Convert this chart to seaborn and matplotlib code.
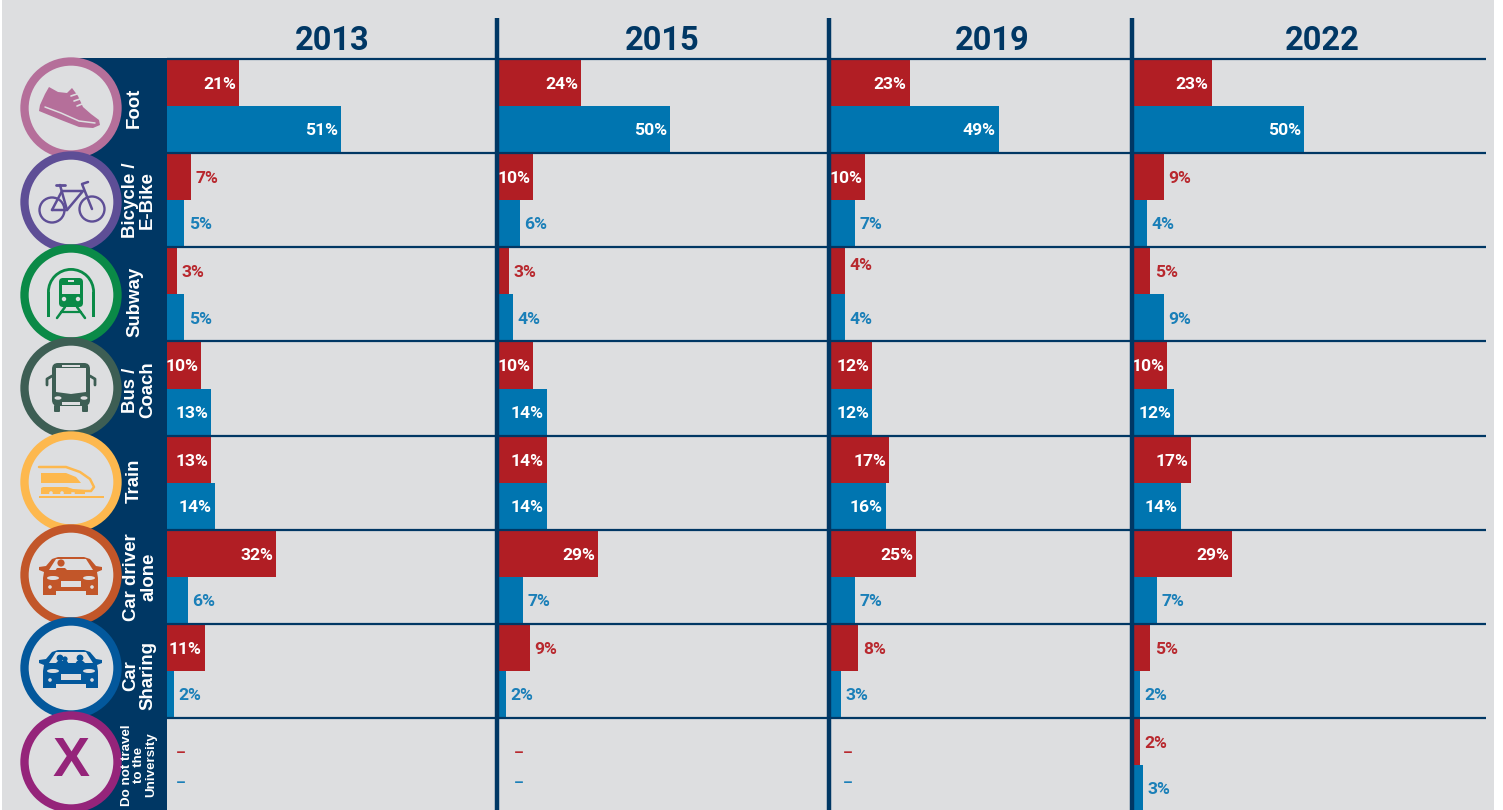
import numpy as np
import pandas as pd
import matplotlib
matplotlib.use("Agg")
import matplotlib.pyplot as plt
from matplotlib.patches import Circle, Polygon, Rectangle, FancyBboxPatch, Wedge, Ellipse
import seaborn as sns

# ---------- data ----------
years = ["2013", "2015", "2019", "2022"]
modes = ["Foot", "Bicycle /\nE-Bike", "Subway", "Bus /\nCoach", "Train",
         "Car driver\nalone", "Car\nSharing", "Do not travel\nto the\nUniversity"]
series = ["A", "B"]
red_2013 = [21, 7, 3, 10, 13, 32, 11, np.nan]
blue_2013 = [51, 5, 5, 13, 14, 6, 2, np.nan]
red_2015 = [24, 10, 3, 10, 14, 29, 9, np.nan]
blue_2015 = [50, 6, 4, 14, 14, 7, 2, np.nan]
red_2019 = [23, 10, 4, 12, 17, 25, 8, np.nan]
blue_2019 = [49, 7, 4, 12, 16, 7, 3, np.nan]
red_2022 = [23, 9, 5, 10, 17, 29, 5, 2]
blue_2022 = [50, 4, 9, 12, 14, 7, 2, 3]
values = {"2013": (red_2013, blue_2013), "2015": (red_2015, blue_2015),
          "2019": (red_2019, blue_2019), "2022": (red_2022, blue_2022)}

# ---------- style ----------
W, H = 1503, 810
BG, NAVY, RED, BLUE = "#DDDEE0", "#003764", "#B11E24", "#0075B0"
RED_T, BLUE_T = "#B8282E", "#1A7FB8"
NARROW = ["Roboto", "DejaVu Sans"]
SANS = ["Liberation Sans", "DejaVu Sans"]
sns.set_theme(style="white")
plt.rcParams["font.family"] = SANS
fig = plt.figure(figsize=(W / 100, H / 100), dpi=100, facecolor="white")

def rect(l, t, r, b):
    return [l / W, 1 - b / H, (r - l) / W, (b - t) / H]

back = fig.add_axes([0, 0, 1, 1], zorder=0)
back.set_xlim(0, W); back.set_ylim(H, 0); back.axis("off")
back.add_patch(Rectangle((2, 0), 1492, H, fc=BG, ec="none"))
back.add_patch(Rectangle((75, 58), 92, H - 58, fc=NAVY, ec="none"))

origins = [167, 499, 831, 1133]
rights = [495, 827, 1130, 1486]
title_x = [332.5, 662, 992, 1322]
dash_dx = {"2013": 9, "2015": 15, "2019": 12, "2022": 0}
nudge = {("2019", 2, 0): 7}
PX = 3.42
TOP, ROW = 59.2, 94.1
for yr, x0, x1, tx in zip(years, origins, rights, title_x):
    df = pd.DataFrame({"mode": modes * 2,
                       "value": list(values[yr][0]) + list(values[yr][1]),
                       "series": ["A"] * 8 + ["B"] * 8})
    ax = fig.add_axes(rect(x0, TOP, x1, TOP + 8 * ROW), zorder=2)
    sns.barplot(data=df, y="mode", x="value", hue="series", hue_order=series,
                order=modes, orient="h", palette=[RED, BLUE], width=0.98,
                dodge=True, legend=False, saturation=1, ax=ax, errorbar=None, linewidth=0)
    ax.set_xlim(0, (x1 - x0) / PX)
    ax.set_ylim(7.5, -0.5)
    ax.patch.set_alpha(0)
    ax.axis("off")
    for s, (col, sval) in enumerate(zip((RED_T, BLUE_T), values[yr])):
        for i, v in enumerate(sval):
            yc = i + (s - 0.5) * 0.49
            dy = -1.5 + nudge.get((yr, i, s), 0)
            if np.isnan(v):
                ax.annotate("–", (0, i), xytext=(dash_dx[yr], 12 if s == 0 else -18),
                            textcoords="offset pixels", color=col, fontsize=11,
                            family=NARROW, fontweight="bold", va="center", ha="left")
            elif v >= 10:
                ax.annotate(f"{v:.0f}%", (v, yc), xytext=(-3, dy),
                            textcoords="offset pixels", color="white", fontsize=12.6,
                            family=NARROW, fontweight="bold", va="center", ha="right")
            else:
                ax.annotate(f"{v:.0f}%", (v, yc), xytext=(4.5, dy),
                            textcoords="offset pixels", color=col, fontsize=12.6,
                            family=NARROW, fontweight="bold", va="center", ha="left")
    back.text(tx, 40.5, yr, color=NAVY, fontsize=23.5, family=NARROW, fontweight="bold",
              ha="center", va="center")

top = fig.add_axes([0, 0, 1, 1], zorder=3)
top.set_xlim(0, W); top.set_ylim(H, 0); top.axis("off"); top.patch.set_alpha(0)
for k in range(8):
    top.plot([167, 1486], [TOP + k * ROW] * 2, color=NAVY, lw=1.6, solid_capstyle="butt")
for xd in [497, 828.5, 1131.5]:
    top.plot([xd, xd], [18, H], color=NAVY, lw=3.2, solid_capstyle="butt")

# category labels
label_x = [134, 139, 135, 139, 134, 140, 139, 139.5]
label_y = [108, 200, 302, 390, 481, 577, 676, 765]
label_fs = [13.4, 13.4, 13.4, 13.4, 13.4, 13.4, 13.4, 9.6]
for m, lx, ly, fs in zip(modes, label_x, label_y, label_fs):
    top.text(lx, ly, m, rotation=90, color="white", fontsize=fs,
             fontweight="bold", ha="center", va="center", linespacing=1.0,
             multialignment="center")

# icons
centers = [108, 202, 295, 388, 482, 575, 668, 762]
ring = ["#B56F9A", "#5E4E96", "#0A8A47", "#3D5E54", "#FDB84E", "#C25629", "#03589C", "#95247A"]
for cy, c in zip(centers, ring):
    top.add_patch(Circle((71, cy), 46.5, fc=BG, ec=c, lw=6))

def P(pts, c, cy, **kw):
    top.add_patch(Polygon([(71 + x, cy + y) for x, y in pts], closed=True, fc=c, ec="none", **kw))
def L(pts, c, cy, lw=1.8):
    xs, ys = zip(*pts)
    top.plot([71 + x for x in xs], [cy + y for y in ys], color=c, lw=lw, solid_capstyle="round")
def C(x, y, r, cy, fc="none", ec="none", lw=1.8):
    top.add_patch(Circle((71 + x, cy + y), r, fc=fc, ec=ec, lw=lw))
def R(x, y, w, h, c, cy, pad=1.5):
    top.add_patch(FancyBboxPatch((71 + x, cy + y), w, h,
                                 boxstyle=f"round,pad=0,rounding_size={pad}", fc=c, ec="none"))

# shoe
c, cy = ring[0], centers[0]
P([(-31, -3), (-26, -14), (-22, -21), (-13, -16), (-4, -15), (1, -20), (7, -12), (12, -1), (20, 6), (28, 12),
   (29, 17), (22, 20), (8, 19), (-10, 12), (-32, 3)], c, cy)
L([(-26, -1), (-10, 5), (8, 13), (24, 15)], BG, cy, 1.1)
for a, b in [((0, -12), (6, -14)), ((3, -7), (9, -9)), ((6, -2), (11, -4))]:
    L([a, b], BG, cy, 1.2)

# bike
c, cy = ring[1], centers[1]
C(-19, 8, 12.5, cy, ec=c, lw=1.7); C(21, 7, 12.5, cy, ec=c, lw=1.7)
L([(-19, 8), (-9, -11), (12, -11), (-4, 8), (-19, 8)], c, cy)
L([(-11, -17), (-4, 8)], c, cy)
L([(-15, -17), (-6, -17)], c, cy, 2)
L([(21, 7), (11, -18), (17, -20)], c, cy)

# subway
c, cy = ring[2], centers[2]
top.add_patch(Wedge((71, cy - 3), 24, 180, 360, width=2.8, fc=c, ec="none"))
for xx in (-24, 21.2):
    top.add_patch(Rectangle((71 + xx, cy - 3), 2.8, 25, fc=c, ec="none"))
R(-12, -17, 24, 29, c, cy, 4)
top.add_patch(Rectangle((71 - 9, cy - 10), 18, 9, fc=BG, ec="none"))
top.add_patch(Rectangle((71 - 3, cy - 15), 6, 2, fc=BG, ec="none"))
C(-7, 4, 2.2, cy, fc=BG); C(7, 4, 2.2, cy, fc=BG)
L([(-6, 12), (-14, 23)], c, cy, 1.8); L([(6, 12), (14, 23)], c, cy, 1.8); L([(-10, 17), (10, 17)], c, cy, 1.6)

# bus
c, cy = ring[3], centers[3]
R(-19, -25, 38, 43, c, cy, 6)
L([(-19, -12), (-24, -9), (-24, -3)], c, cy, 2); L([(19, -12), (24, -9), (24, -3)], c, cy, 2)
P([(-15, -20), (15, -20), (15, 4), (0, 6), (-15, 4)], BG, cy)
top.add_patch(Rectangle((71 - 9, cy - 23.5), 18, 2.5, fc=BG, ec="none"))
top.add_patch(Ellipse((71 - 13, cy + 10), 7, 3.5, fc=BG, ec="none"))
top.add_patch(Ellipse((71 + 13, cy + 10), 7, 3.5, fc=BG, ec="none"))
top.add_patch(Rectangle((71 - 9, cy + 14), 18, 2.5, fc=BG, ec="none"))
R(-17, 17, 6, 7, c, cy, 1); R(11, 17, 6, 7, c, cy, 1)

# train
c, cy = ring[4], centers[4]
L([(-32, -15), (-5, -15), (9, -10), (19, -3), (23, 5), (20, 9), (-4, 9)], c, cy, 1.8)
P([(-30, -9), (-5, -9), (5, -5), (10, 1), (-30, 1)], c, cy)
P([(-30, 6), (-28, 5), (-4, 5), (2, 7), (14, 8), (14, 12), (-30, 12)], c, cy)
for xx in (-20, -9, 2):
    C(xx, 11, 1.8, cy, fc=BG)
top.add_patch(Rectangle((71 - 32, cy + 14), 65, 2.2, fc=c, ec="none"))

# cars
def car(cy, c, two):
    P([(-32, -8), (-25, -9), (-19, -16), (-13, -18), (13, -18), (19, -16), (25, -9), (31, -8), (31, -5), (26, -3),
       (27, 3), (27, 20), (15, 20), (15, 16), (-15, 16), (-15, 20), (-28, 20), (-28, 3), (-27, -3), (-32, -5)], c, cy)
    P([(-22, -5), (-15, -16), (15, -16), (22, -5)], BG, cy)
    top.add_patch(Ellipse((71 - 18, cy + 3), 12, 4, fc=BG, ec="none"))
    top.add_patch(Ellipse((71 + 18, cy + 3), 12, 4, fc=BG, ec="none"))
    top.add_patch(Rectangle((71 - 10, cy + 6), 20, 6, fc=BG, ec="none"))
    C(-21, 12, 1.8, cy, fc=BG); C(21, 12, 1.8, cy, fc=BG)
    if two:
        C(-11, -10, 3.4, cy, fc=c); C(-6, -9, 2.6, cy, fc=c); C(9, -10, 3.4, cy, fc=c)
        P([(-16, -4), (-13, -7), (-4, -7), (-2, -4)], c, cy); P([(4, -4), (6, -7), (12, -7), (15, -4)], c, cy)
    else:
        C(-10, -12, 3.6, cy, fc=c)
        P([(-16, -4), (-14, -7), (-6, -7), (-3, -4)], c, cy)
car(centers[5], ring[5], False)
car(centers[6], ring[6], True)

# X
top.text(71, centers[7], "X", color=ring[7], fontsize=40, fontweight="bold", ha="center", va="center")

fig.savefig("out.png", dpi=100, facecolor="white")
